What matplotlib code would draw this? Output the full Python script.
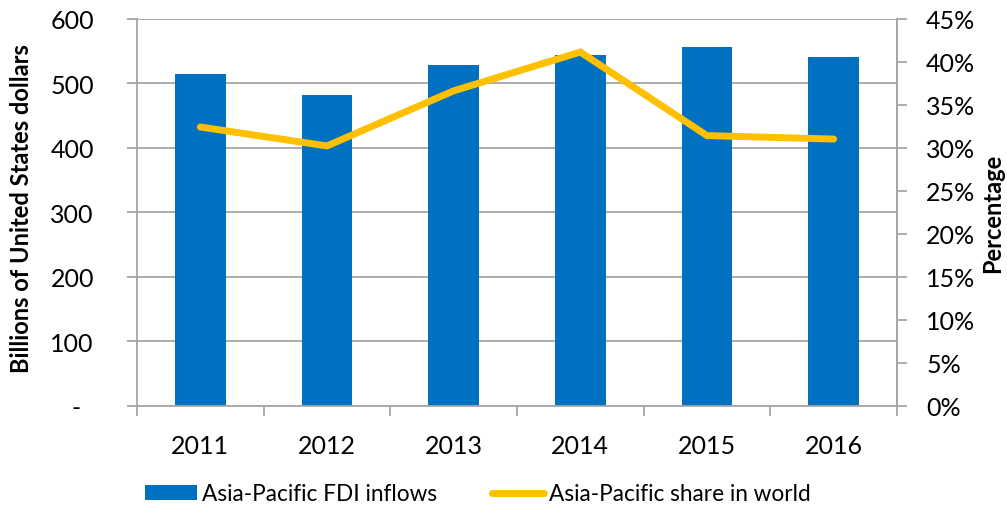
import matplotlib
matplotlib.use("Agg")
import matplotlib.pyplot as plt
import numpy as np
from matplotlib.ticker import FixedLocator, FuncFormatter

years = ["2011", "2012", "2013", "2014", "2015", "2016"]
fdi_inflows = [514, 481, 528, 544, 556, 541]
share_world = [32.4, 30.2, 36.6, 41.1, 31.4, 31.0]

plt.rcParams['font.family'] = ['Lato', 'DejaVu Sans']
fig = plt.figure(figsize=(10.07, 5.06), dpi=100)
ax = fig.add_axes([137/1007, 1-407/506, (897-137)/1007, (407-19.5)/506])
x = np.arange(len(years))
ax.bar(x, fdi_inflows, width=0.4, color="#0070C0", zorder=2, label="Asia-Pacific FDI inflows")
ax.set_xlim(-0.5, len(years)-0.5)
ax.set_ylim(0, 600)
ax.set_yticks(range(0, 601, 100))
ax.yaxis.set_major_formatter(FuncFormatter(lambda v, p: "-  " if v == 0 else f"{int(v)}"))
ax.grid(axis='y', color="#A6A6A6", linewidth=1.3, zorder=0)
ax.set_axisbelow(True)
ax.set_xticks(x)
ax.set_xticklabels(years)
ax.xaxis.set_minor_locator(FixedLocator(np.arange(-0.5, len(years), 1)))
ax.tick_params(axis='x', which='major', length=0, pad=20, labelsize=18)
ax.tick_params(axis='x', which='minor', length=7, color="#A6A6A6", width=1.3)
ax.tick_params(axis='y', length=7, color="#A6A6A6", width=1.3, labelsize=18, pad=24)
ax.spines['top'].set_visible(False)
for s in ['left', 'bottom', 'right']:
    ax.spines[s].set_color("#A6A6A6")
    ax.spines[s].set_linewidth(1.3)
ax.set_ylabel("Billions of United States dollars", fontsize=17, fontweight='bold')
ax.yaxis.set_label_coords(-104/760, 0.512)

ax2 = ax.twinx()
ax2.plot(x, share_world, color="#FFC000", linewidth=5, solid_capstyle='round', solid_joinstyle='miter', zorder=3, label="Asia-Pacific share in world")
ax2.set_ylim(0, 45)
ax2.set_yticks(range(0, 46, 5))
ax2.yaxis.set_major_formatter(FuncFormatter(lambda v, p: f"{int(v)}%"))
ax2.tick_params(axis='y', length=7, color="#A6A6A6", width=1.3, labelsize=18, pad=14)
for s in ['top', 'left', 'bottom']:
    ax2.spines[s].set_visible(False)
ax2.spines['right'].set_color("#A6A6A6")
ax2.spines['right'].set_linewidth(1.3)
ax2.set_ylabel("Percentage", fontsize=17, fontweight='bold')
ax2.yaxis.set_label_coords(1 + 84/760, 0.5)

h1, l1 = ax.get_legend_handles_labels()
h2, l2 = ax2.get_legend_handles_labels()
fig.legend(h1 + h2, l1 + l2, loc='center left', bbox_to_anchor=(145/1007, 11/506), ncol=2,
           frameon=False, fontsize=16.3, handlelength=2.3, handleheight=0.66, columnspacing=2.4,
           handletextpad=0.22, borderpad=0, borderaxespad=0)

fig.savefig("out.png", dpi=100)
